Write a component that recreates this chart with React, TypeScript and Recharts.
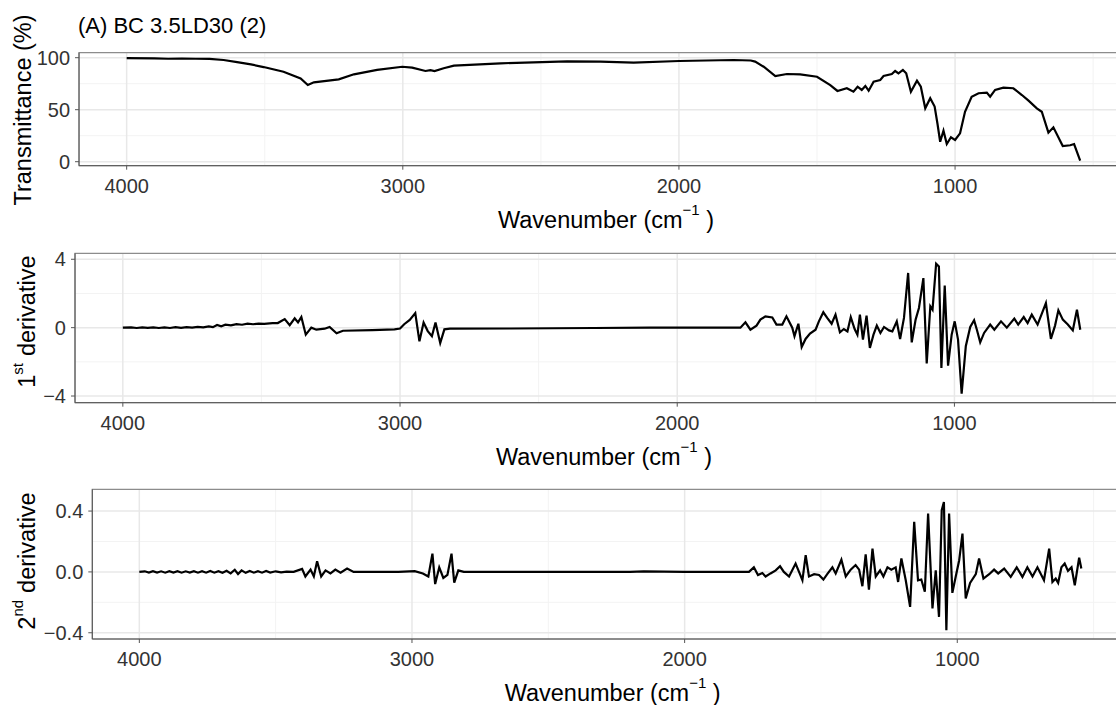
import React from 'react';
import { LineChart, Line, XAxis, YAxis, CartesianGrid, ReferenceArea } from 'recharts';

const FONT = '"Liberation Sans", Arial, Helvetica, sans-serif';

// Shared x axis (wavenumber, cm^-1)
const xTicks = [1000, 2000, 3000, 4000];
const xMinorTicks = [500, 1500, 2500, 3500];
const xDomain: [number, number] = [377.5, 4172.5];

// Panel 1: transmittance (%) — [wavenumber, value]
const transmittance: [number, number][] = [
  [4000, 99.5], [3900, 99.3], [3850, 99.0], [3800, 99.2], [3750, 99.0], [3700, 98.8],
  [3649, 97.8], [3600, 95.8], [3550, 93.5], [3504, 91], [3432, 86.5], [3370, 80],
  [3344, 73.7], [3322, 76.3], [3232, 79.2], [3177, 84], [3093, 88.2], [3002, 91.3],
  [2966, 90.4], [2918, 87.2], [2900, 88], [2885, 87.2], [2852, 89.8], [2815, 92.3],
  [2646, 94.6], [2405, 96.5], [2284, 96.2], [2164, 95.2], [1999, 96.8], [1802, 97.8],
  [1740, 97.3], [1724, 96.2], [1693, 91.3], [1651, 82.4], [1609, 84.3], [1561, 84],
  [1500, 81.7], [1452, 73.7], [1426, 68], [1392, 70.6], [1368, 67.3], [1353, 72.1],
  [1338, 69], [1325, 72.8], [1313, 68.3], [1295, 77], [1271, 78.6], [1259, 82.4],
  [1229, 84.3], [1217, 87.2], [1205, 85], [1189, 88.2], [1177, 85], [1160, 67.3],
  [1138, 77.9], [1124, 72.1], [1108, 51.3], [1090, 61], [1074, 53], [1064, 37],
  [1054, 19.2], [1042, 29.8], [1030, 17], [1015, 23.5], [1000, 20.9], [982, 27.3],
  [964, 48], [940, 62.5], [915, 65.8], [885, 66.4], [873, 62.5], [855, 69],
  [825, 71.2], [789, 70.6], [758, 64.1], [734, 58.7], [704, 51.3], [686, 48],
  [662, 27.9], [644, 33], [610, 15.1], [583, 15.8], [569, 17], [547, 1],
];

// Panel 2: 1st derivative — [wavenumber, value]
const firstDerivative: [number, number][] = [
  [4000, 0], [3970, 0.02], [3950, -0.02], [3930, 0.02], [3910, -0.01], [3890, 0.02],
  [3870, -0.02], [3850, 0.02], [3830, -0.02], [3810, 0.03], [3790, -0.01], [3770, 0.03],
  [3750, 0], [3730, 0.04], [3710, 0.02], [3690, 0.07], [3675, 0.03], [3660, 0.16],
  [3645, 0.08], [3630, 0.17], [3610, 0.13], [3590, 0.21], [3570, 0.17], [3550, 0.23],
  [3530, 0.2], [3510, 0.24], [3490, 0.22], [3460, 0.26], [3441, 0.27], [3416, 0.5],
  [3398, 0.14], [3380, 0.55], [3368, 0.31], [3356, 0.62], [3340, -0.41], [3320, 0],
  [3302, -0.12], [3272, -0.06], [3254, 0.04], [3229, -0.33], [3206, -0.18], [3100, -0.15],
  [3020, -0.1], [3000, -0.05], [2985, 0.2], [2965, 0.45], [2945, 0.85], [2930, -0.8],
  [2915, 0.3], [2900, -0.2], [2885, -0.5], [2872, 0.3], [2855, -0.9], [2840, -0.1],
  [2820, -0.06], [2600, -0.05], [2300, -0.02], [2100, 0], [1772, 0],
  [1754, 0.31], [1736, -0.12], [1714, 0.12], [1700, 0.47], [1682, 0.66], [1657, 0.6],
  [1642, 0.18], [1621, 0.18], [1606, 0.66], [1585, 0], [1577, -0.5], [1563, 0.23],
  [1551, -1.13], [1537, -0.66], [1521, -0.35], [1501, -0.12], [1489, 0.37], [1473, 0.9],
  [1459, 0.57], [1443, 0.23], [1429, 0.76], [1413, -0.27], [1399, -0.08], [1386, -0.22],
  [1374, 0.62], [1360, -0.08], [1350, -0.41], [1341, 0.76], [1330, -0.7], [1317, 0.7],
  [1305, -1.19], [1292, -0.41], [1280, 0.12], [1267, -0.31], [1254, 0.04], [1236, -0.16],
  [1224, -0.22], [1208, 0.37], [1196, -0.66], [1182, 0.57], [1167, 3.2], [1154, -0.86],
  [1140, 0.47], [1128, 1.15], [1112, 2.9], [1100, -2.1], [1087, 1.25], [1079, 1.05],
  [1066, 3.74], [1056, 3.58], [1047, -2.36], [1035, 2.46], [1023, -2.22], [1010, -0.41],
  [999, 0.37], [987, -0.7], [974, -3.86], [959, -1.09], [943, 0.04], [929, 0.43],
  [919, -0.12], [907, -0.86], [893, -0.31], [871, 0.18], [856, -0.12], [832, 0.37],
  [811, 0], [784, 0.53], [770, 0.18], [750, 0.62], [736, 0.27], [721, 0.76],
  [700, 0.18], [670, 1.44], [652, -0.66], [637, 0.12], [625, 1.01], [609, 0.47],
  [591, 0.18], [573, -0.16], [558, 1.05], [546, -0.12],
];

// Panel 3: 2nd derivative — [wavenumber, value]
const secondDerivative: [number, number][] = [
  [4000, 0], [3980, 0.004], [3965, -0.004], [3950, 0.005], [3935, -0.004], [3920, 0.004],
  [3905, -0.005], [3890, 0.005], [3875, -0.004], [3860, 0.005], [3845, -0.005], [3830, 0.004],
  [3815, -0.004], [3800, 0.005], [3785, -0.005], [3770, 0.005], [3755, -0.005], [3740, 0.006],
  [3725, -0.005], [3710, 0.005], [3695, -0.006], [3680, 0.007], [3665, -0.01], [3650, 0.014],
  [3638, -0.014], [3625, 0.01], [3610, -0.006], [3595, 0.006], [3580, -0.005], [3565, 0.005],
  [3550, -0.005], [3535, 0.006], [3520, -0.004], [3500, 0.004], [3480, -0.003], [3460, 0.002],
  [3434, 0], [3403, 0.02], [3391, -0.03], [3372, 0.015], [3360, -0.03], [3348, 0.07],
  [3333, -0.03], [3317, 0.01], [3299, -0.01], [3281, 0.015], [3262, -0.005], [3238, 0.022],
  [3214, 0], [3050, 0], [2990, 0.005], [2960, -0.01], [2940, -0.03], [2925, 0.12],
  [2915, -0.08], [2900, 0.03], [2885, -0.04], [2870, -0.02], [2855, 0.12], [2845, -0.07],
  [2830, 0.01], [2810, 0], [2200, 0], [2150, 0.004], [2000, 0], [1764, 0],
  [1746, 0.03], [1731, -0.02], [1715, -0.007], [1703, -0.03], [1685, -0.01], [1666, 0.01],
  [1650, 0.037], [1636, 0], [1617, -0.03], [1593, 0.055], [1577, -0.015], [1568, -0.055],
  [1556, 0.11], [1544, -0.03], [1525, -0.015], [1507, -0.02], [1491, -0.05], [1477, -0.015],
  [1458, 0.03], [1446, -0.01], [1425, 0.08], [1409, -0.03], [1391, 0.015], [1373, 0.045],
  [1360, 0.015], [1348, -0.094], [1336, 0.116], [1324, -0.116], [1311, 0.153], [1299, -0.03],
  [1283, 0.01], [1271, -0.03], [1256, 0.03], [1242, 0.015], [1226, 0.03], [1217, -0.066],
  [1205, 0.088], [1189, -0.055], [1173, -0.23], [1158, 0.33], [1144, -0.055], [1132, -0.05],
  [1119, -0.13], [1107, 0.384], [1091, -0.24], [1079, 0.01], [1067, -0.296], [1057, 0.406],
  [1049, 0.46], [1040, -0.384], [1030, 0.384], [1018, -0.138], [1006, -0.033], [993, 0.077],
  [981, 0.252], [969, -0.175], [953, -0.072], [932, -0.015], [920, 0.088], [904, -0.044],
  [883, -0.015], [865, 0.015], [850, -0.01], [828, 0.022], [804, -0.033], [782, 0.03],
  [761, -0.033], [743, 0.03], [724, -0.03], [706, 0.03], [682, -0.055], [663, 0.153],
  [651, -0.066], [639, -0.044], [630, -0.072], [618, 0.03], [606, 0.055], [594, 0.007],
  [581, 0.03], [569, -0.088], [553, 0.094], [545, 0.022],
];

// y tick values
const transTicks = [0, 50, 100];
const transMinor = [25, 75];
const d1Ticks = [-4, 0, 4];
const d1Minor = [-2, 2];
const d2Ticks = [-0.4, 0, 0.4];
const d2Minor = [-0.2, 0.2];

const toRows = (arr: [number, number][]) => arr.map(([w, v]) => ({ w, v }));
const minus = (s: string) => s.replace('-', '\u2212');

const PLOT_RIGHT = 1127;
const CHART_W = 1140;

type PanelProps = {
  data: { w: number; v: number }[];
  top: number;
  height: number;
  left: number;
  yDomain: [number, number];
  yTicks: number[];
  yMinor: number[];
  fmt: (v: number) => string;
};

function Panel({ data, top, height, left, yDomain, yTicks, yMinor, fmt }: PanelProps) {
  const axisH = 80;
  return (
    <div style={{ position: 'absolute', left: 0, top: 0 }}>
      <LineChart
        width={CHART_W}
        height={top + height + axisH}
        data={data}
        margin={{ top, right: CHART_W - PLOT_RIGHT, bottom: 0, left: 0 }}
      >
        <CartesianGrid
          stroke="#f3f3f3"
          strokeWidth={1}
          verticalValues={xMinorTicks}
          horizontalValues={yMinor}
        />
        <CartesianGrid
          stroke="#e8e8e8"
          strokeWidth={1.5}
          verticalValues={xTicks}
          horizontalValues={yTicks}
        />
        <XAxis
          dataKey="w"
          type="number"
          domain={xDomain}
          reversed
          allowDataOverflow
          ticks={xTicks}
          interval={0}
          height={axisH}
          tickSize={4}
          tickMargin={9}
          axisLine={{ stroke: '#555', strokeWidth: 1 }}
          tickLine={{ stroke: '#555', strokeWidth: 1 }}
          tick={{ fontSize: 20, fill: '#333', fontFamily: FONT }}
        />
        <YAxis
          type="number"
          domain={yDomain}
          allowDataOverflow
          ticks={yTicks}
          interval={0}
          width={left}
          tickSize={4}
          tickMargin={5}
          tickFormatter={fmt}
          axisLine={{ stroke: '#555', strokeWidth: 1 }}
          tickLine={{ stroke: '#555', strokeWidth: 1 }}
          tick={{ fontSize: 20, fill: '#333', fontFamily: FONT }}
        />
        <ReferenceArea
          x1={xDomain[0]}
          x2={xDomain[1]}
          y1={yDomain[0]}
          y2={yDomain[1]}
          fill="none"
          fillOpacity={0}
          stroke="#8c8c8c"
          strokeWidth={1.2}
          ifOverflow="visible"
        />
        <Line
          type="linear"
          dataKey="v"
          stroke="#000"
          strokeWidth={2.2}
          dot={false}
          isAnimationActive={false}
        />
      </LineChart>
    </div>
  );
}

const panels = [
  { top: 52.7, height: 113, left: 79 },
  { top: 253.3, height: 149.4, left: 75 },
  { top: 489.3, height: 149.7, left: 92.3 },
];

function XTitle({ panel }: { panel: { top: number; height: number; left: number } }) {
  const cx = (panel.left + PLOT_RIGHT) / 2 + 3;
  const y = panel.top + panel.height + 62.3;
  return (
    <text x={cx} y={y} textAnchor="middle" fontSize={23.5} fontFamily={FONT} fill="#000">
      Wavenumber (cm
      <tspan fontSize={15} dy={-13}>{'\u22121'}</tspan>
      <tspan dy={13}>{'\u00A0)'}</tspan>
    </text>
  );
}

export default function App() {
  return (
    <div
      style={{
        position: 'fixed',
        left: 0,
        top: 0,
        width: 1116,
        height: 705,
        overflow: 'hidden',
        background: '#fff',
        fontFamily: FONT,
      }}
    >
      <Panel
        data={toRows(transmittance)}
        {...panels[0]}
        yDomain={[-3.85, 104.8]}
        yTicks={transTicks}
        yMinor={transMinor}
        fmt={(v) => String(v)}
      />
      <Panel
        data={toRows(firstDerivative)}
        {...panels[1]}
        yDomain={[-4.39, 4.35]}
        yTicks={d1Ticks}
        yMinor={d1Minor}
        fmt={(v) => minus(String(v))}
      />
      <Panel
        data={toRows(secondDerivative)}
        {...panels[2]}
        yDomain={[-0.441, 0.543]}
        yTicks={d2Ticks}
        yMinor={d2Minor}
        fmt={(v) => minus(v.toFixed(1))}
      />
      <svg
        width={1116}
        height={705}
        style={{ position: 'absolute', left: 0, top: 0, pointerEvents: 'none' }}
      >
        <text x={78} y={33.3} fontSize={22} fontFamily={FONT} fill="#000">
          (A) BC 3.5LD30 (2)
        </text>
        <text
          transform="translate(30.7,110) rotate(-90)"
          textAnchor="middle"
          fontSize={23.5}
          fontFamily={FONT}
          fill="#000"
        >
          Transmittance (%)
        </text>
        <text
          transform="translate(34.5,321.7) rotate(-90)"
          textAnchor="middle"
          fontSize={23.5}
          fontFamily={FONT}
          fill="#000"
        >
          1
          <tspan fontSize={15} dy={-12}>st</tspan>
          <tspan dy={12} dx={7}>derivative</tspan>
        </text>
        <text
          transform="translate(34.5,561) rotate(-90)"
          textAnchor="middle"
          fontSize={23.5}
          fontFamily={FONT}
          fill="#000"
        >
          2
          <tspan fontSize={15} dy={-12}>nd</tspan>
          <tspan dy={12} dx={7}>derivative</tspan>
        </text>
        {panels.map((p, i) => (
          <XTitle key={i} panel={p} />
        ))}
      </svg>
    </div>
  );
}
